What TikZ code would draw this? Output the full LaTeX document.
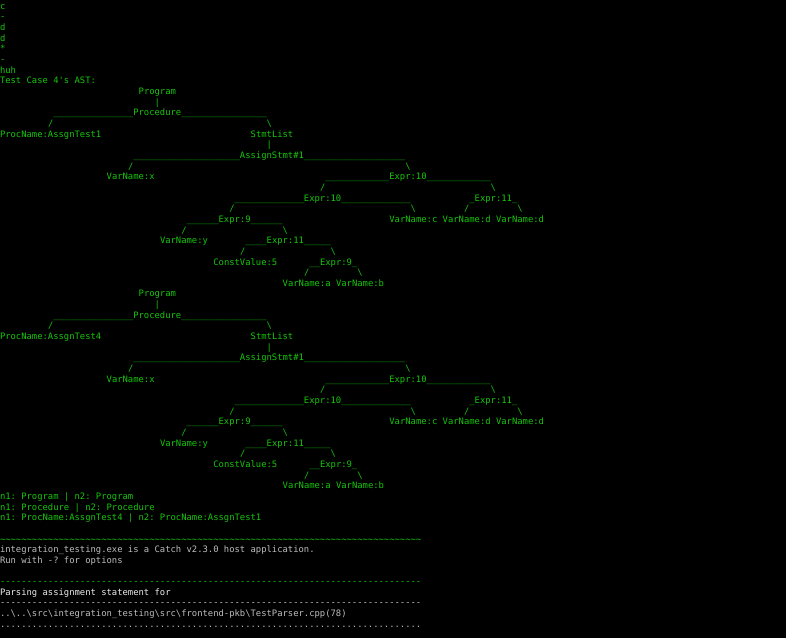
\documentclass[tikz,border=0pt]{standalone}
\usepackage{fontspec}
\setmonofont{DejaVu Sans Mono}
\usepackage{tikz}
\usepackage{xcolor}
\definecolor{termgreen}{HTML}{16C60C}
\definecolor{termgray}{HTML}{BEBEBE}
\definecolor{termwhite}{HTML}{EEEEEE}

% one console cell: column width and line pitch
\newcommand{\colw}{4pt}
\newcommand{\rowh}{7.99pt}
\newcommand{\rep}[2]{\foreach \rr in {1,...,#1}{#2}}
% \tline[style]{name}{column}{line}{text}
\newcommand{\tline}[5][]{\node[term,#1] (#2) at ({#3*\colw},{-7pt-(#4-1)*\rowh}) {#5};}

% the printed AST: first line, name prefix, procedure name
\newcommand{\asttree}[3]{%
    \tline{#2prog}{26}{#1}{Program}
    \tline{#2progbar}{29}{#1+1}{|}
    \tline{#2proc}{10}{#1+2}{\rep{15}{\_}Procedure\rep{16}{\_}}
    \tline{#2procl}{9}{#1+3}{/}
    \tline{#2procr}{50}{#1+3}{\textbackslash}
    \tline{#2pname}{0}{#1+4}{ProcName:#3}
    \tline{#2stmts}{47}{#1+4}{StmtList}
    \tline{#2stmtsbar}{50}{#1+5}{|}
    \tline{#2assign}{25}{#1+6}{\rep{20}{\_}AssignStmt\#1\rep{19}{\_}}
    \tline{#2assignl}{24}{#1+7}{/}
    \tline{#2assignr}{76}{#1+7}{\textbackslash}
    \tline{#2varx}{20}{#1+8}{VarName:x}
    \tline{#2exprA}{61}{#1+8}{\rep{12}{\_}Expr:10\rep{12}{\_}}
    \tline{#2exprAl}{60}{#1+9}{/}
    \tline{#2exprAr}{92}{#1+9}{\textbackslash}
    \tline{#2exprB}{44}{#1+10}{\rep{13}{\_}Expr:10\rep{13}{\_}}
    \tline{#2exprC}{88}{#1+10}{\_Expr:11\_}
    \tline{#2exprBl}{43}{#1+11}{/}
    \tline{#2exprBr}{77}{#1+11}{\textbackslash}
    \tline{#2exprCl}{87}{#1+11}{/}
    \tline{#2exprCr}{97}{#1+11}{\textbackslash}
    \tline{#2exprD}{35}{#1+12}{\rep{6}{\_}Expr:9\rep{6}{\_}}
    \tline{#2varc}{73}{#1+12}{VarName:c}
    \tline{#2vard}{83}{#1+12}{VarName:d}
    \tline{#2vardd}{93}{#1+12}{VarName:d}
    \tline{#2exprDl}{34}{#1+13}{/}
    \tline{#2exprDr}{53}{#1+13}{\textbackslash}
    \tline{#2vary}{30}{#1+14}{VarName:y}
    \tline{#2exprE}{46}{#1+14}{\rep{4}{\_}Expr:11\rep{5}{\_}}
    \tline{#2exprEl}{45}{#1+15}{/}
    \tline{#2exprEr}{62}{#1+15}{\textbackslash}
    \tline{#2const}{40}{#1+16}{ConstValue:5}
    \tline{#2exprF}{58}{#1+16}{\_\_Expr:9\_}
    \tline{#2exprFl}{57}{#1+17}{/}
    \tline{#2exprFr}{67}{#1+17}{\textbackslash}
    \tline{#2vara}{53}{#1+18}{VarName:a}
    \tline{#2varb}{63}{#1+18}{VarName:b}
}

\begin{document}
\begin{tikzpicture}[
        term/.style={anchor=base west, inner sep=0pt, outer sep=0pt, text=termgreen,
            font=\ttfamily\fontsize{6.644}{8}\selectfont},
        dim/.style={text=termgray},
        head/.style={text=termwhite}
    ]
    % console window
    \useasboundingbox (0,0) rectangle (589.5pt,-478.5pt);
    \fill[black] (0,0) rectangle (589.5pt,-478.5pt);

    % debug output
    \tline{outc}{0}{1}{c}
    \tline{outm}{0}{2}{-}
    \tline{outd}{0}{3}{d}
    \tline{outdd}{0}{4}{d}
    \tline{outs}{0}{5}{*}
    \tline{outmm}{0}{6}{-}
    \tline{outhuh}{0}{7}{huh}
    \tline{title}{0}{8}{Test Case 4's AST:}

    % the two trees
    \asttree{9}{ta}{AssgnTest1}
    \asttree{28}{tb}{AssgnTest4}

    % comparison
    \tline{cmpa}{0}{47}{n1: Program | n2: Program}
    \tline{cmpb}{0}{48}{n1: Procedure | n2: Procedure}
    \tline{cmpc}{0}{49}{n1: ProcName:AssgnTest4 | n2: ProcName:AssgnTest1}

    % Catch report
    \tline{tilde}{0}{51}{\rep{79}{\textasciitilde}}
    \tline[dim]{catch}{0}{52}{integration\_testing.exe is a Catch v2.3.0 host application.}
    \tline[dim]{runwith}{0}{53}{Run with -? for options}
    \tline{sepa}{0}{55}{\rep{79}{-}}
    \tline[head]{parsing}{0}{56}{Parsing assignment statement for}
    \tline[dim]{sepb}{0}{57}{\rep{79}{-}}
    \tline[dim]{file}{0}{58}{..\textbackslash..\textbackslash src\textbackslash integration\_testing\textbackslash src\textbackslash frontend-pkb\textbackslash TestParser.cpp(78)}
    \tline[dim]{dots}{0}{59}{\rep{79}{.}}
\end{tikzpicture}
\end{document}
